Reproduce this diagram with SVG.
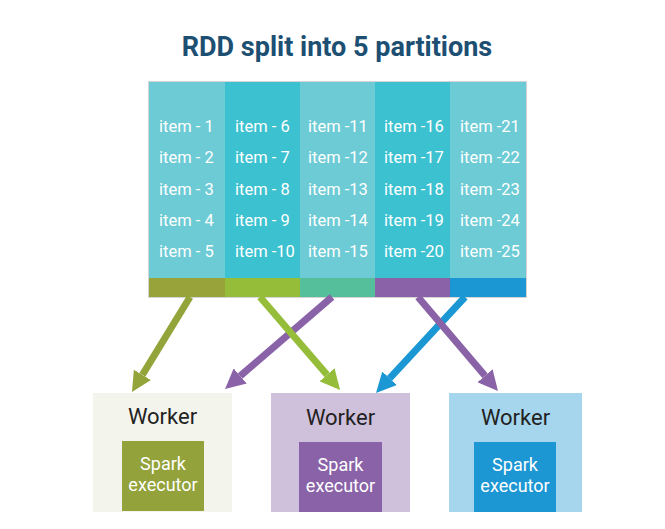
<svg xmlns="http://www.w3.org/2000/svg" width="665" height="529" viewBox="0 0 665 529">
<defs>
<style>
.title{font-family:Roboto,"Liberation Sans",sans-serif;font-size:27px;font-weight:700;fill:#1d4f73;text-anchor:middle}
.item{font-family:Roboto,"Liberation Sans",sans-serif;font-size:16.5px;fill:#ffffff}
.wk{font-family:Roboto,"Liberation Sans",sans-serif;font-size:22px;fill:#222222;text-anchor:middle}
.ex{font-family:Roboto,"Liberation Sans",sans-serif;font-size:18px;fill:#ffffff;text-anchor:middle}
.arr{stroke-width:7;fill:none}
</style>
<marker id="hOlive" viewBox="0 0 20 20" refX="0" refY="10" markerWidth="20" markerHeight="20" markerUnits="userSpaceOnUse" orient="auto"><path d="M0,0 L20,10 L0,20 z" fill="#93a43a"/></marker>
<marker id="hGreen" viewBox="0 0 20 20" refX="0" refY="10" markerWidth="20" markerHeight="20" markerUnits="userSpaceOnUse" orient="auto"><path d="M0,0 L20,10 L0,20 z" fill="#95bd3a"/></marker>
<marker id="hPurple" viewBox="0 0 20 20" refX="0" refY="10" markerWidth="20" markerHeight="20" markerUnits="userSpaceOnUse" orient="auto"><path d="M0,0 L20,10 L0,20 z" fill="#8a62a8"/></marker>
<marker id="hBlue" viewBox="0 0 20 20" refX="0" refY="10" markerWidth="20" markerHeight="20" markerUnits="userSpaceOnUse" orient="auto"><path d="M0,0 L20,10 L0,20 z" fill="#1b97d4"/></marker>
</defs>
<rect width="665" height="529" fill="#ffffff"/>
<text class="title" x="337" y="56">RDD split into 5 partitions</text>

<g id="rdd">
<rect x="148.5" y="81.5" width="378" height="216" fill="none" stroke="#d4d4d4" stroke-width="1"/>
<rect x="149" y="82" width="76" height="196" fill="#6ccbd4"/>
<rect x="225" y="82" width="75" height="196" fill="#3bc1cf"/>
<rect x="300" y="82" width="75" height="196" fill="#6ccbd4"/>
<rect x="375" y="82" width="75" height="196" fill="#3bc1cf"/>
<rect x="450" y="82" width="76" height="196" fill="#6ccbd4"/>
<rect x="149" y="278" width="76" height="19" fill="#98a43a"/>
<rect x="225" y="278" width="75" height="19" fill="#95bd3a"/>
<rect x="300" y="278" width="75" height="19" fill="#55be9a"/>
<rect x="375" y="278" width="75" height="19" fill="#8a62a8"/>
<rect x="450" y="278" width="76" height="19" fill="#1b97d4"/>
<g class="item">
<text x="159" y="132">item - 1</text><text x="159" y="163">item - 2</text><text x="159" y="195">item - 3</text><text x="159" y="226">item - 4</text><text x="159" y="257">item - 5</text>
<text x="235" y="132">item - 6</text><text x="235" y="163">item - 7</text><text x="235" y="195">item - 8</text><text x="235" y="226">item - 9</text><text x="235" y="257">item -10</text>
<text x="308" y="132">item -11</text><text x="308" y="163">item -12</text><text x="308" y="195">item -13</text><text x="308" y="226">item -14</text><text x="308" y="257">item -15</text>
<text x="384" y="132">item -16</text><text x="384" y="163">item -17</text><text x="384" y="195">item -18</text><text x="384" y="226">item -19</text><text x="384" y="257">item -20</text>
<text x="460" y="132">item -21</text><text x="460" y="163">item -22</text><text x="460" y="195">item -23</text><text x="460" y="226">item -24</text><text x="460" y="257">item -25</text>
</g>
</g>

<g id="worker1">
<rect x="93" y="393" width="139" height="119" fill="#f3f4ec"/>
<text class="wk" x="162.5" y="424">Worker</text>
<rect x="122" y="441" width="82" height="70" fill="#93a23a"/>
<text class="ex" x="163" y="470">Spark</text>
<text class="ex" x="163" y="491">executor</text>
</g>
<g id="worker2">
<rect x="271" y="393" width="139" height="119" fill="#cfc0dc"/>
<text class="wk" x="340.5" y="425">Worker</text>
<rect x="299" y="442" width="83" height="70" fill="#8a62a8"/>
<text class="ex" x="340.5" y="471">Spark</text>
<text class="ex" x="340.5" y="492">executor</text>
</g>
<g id="worker3">
<rect x="449" y="393" width="133" height="119" fill="#a6d6ee"/>
<text class="wk" x="515.5" y="425">Worker</text>
<rect x="474" y="442" width="82" height="70" fill="#1c97d4"/>
<text class="ex" x="515" y="471">Spark</text>
<text class="ex" x="515" y="492">executor</text>
</g>

<g id="connectors">
<line class="arr" x1="190" y1="297" x2="142.4" y2="374.9" stroke="#93a43a" marker-end="url(#hOlive)"/>
<line class="arr" x1="332" y1="297" x2="240.2" y2="376.0" stroke="#8a62a8" marker-end="url(#hPurple)"/>
<line class="arr" x1="260" y1="297" x2="327.0" y2="374.8" stroke="#95bd3a" marker-end="url(#hGreen)"/>
<line class="arr" x1="465" y1="297" x2="389.6" y2="378.3" stroke="#1b97d4" marker-end="url(#hBlue)"/>
<line class="arr" x1="418" y1="297" x2="485.0" y2="375.8" stroke="#8a62a8" marker-end="url(#hPurple)"/>
</g>
</svg>
